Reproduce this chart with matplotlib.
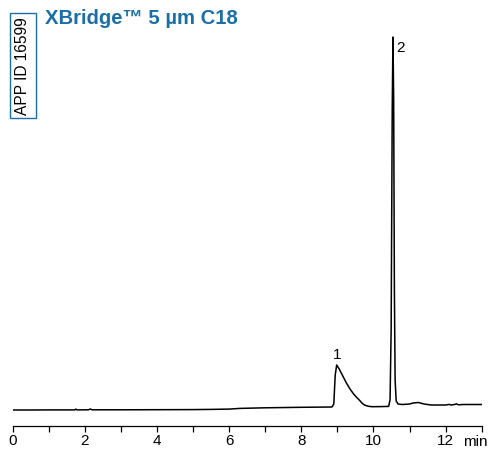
import matplotlib
matplotlib.use("Agg")
import matplotlib.pyplot as plt
from matplotlib import font_manager
from matplotlib.patches import Rectangle

# ---- data ----
time_min = [0.0, 0.5, 1.0, 1.5, 1.72, 1.75, 1.78, 2.1, 2.15, 2.2, 3.0, 4.0, 5.0,
            5.5, 6.0, 6.3, 7.0, 8.0, 8.85, 8.9, 8.94, 8.98, 9.05, 9.15, 9.25,
            9.35, 9.45, 9.55, 9.62, 9.68, 9.75, 9.85, 9.95, 10.2, 10.42, 10.46,
            10.49, 10.52, 10.54, 10.56, 10.58, 10.60, 10.63, 10.68, 10.8, 11.0,
            11.1, 11.25, 11.4, 11.6, 11.8, 12.0, 12.1, 12.15, 12.25, 12.3, 12.35,
            12.5, 12.7, 13.0]
signal = [0.0, 0.0, 0.1, 0.1, 0.1, 0.9, 0.1, 0.2, 1.0, 0.2, 0.2, 0.3, 0.4,
          0.6, 0.9, 1.6, 2.2, 2.7, 3.0, 6.0, 35.0, 45.0, 41.0, 34.0, 27.0,
          21.0, 16.0, 12.0, 9.5, 7.0, 5.0, 3.8, 3.3, 3.4, 3.6, 10.0,
          80.0, 300.0, 373.0, 310.0, 120.0, 30.0, 9.0, 6.0, 5.5, 6.0,
          7.0, 7.5, 6.0, 5.0, 5.0, 5.0, 5.6, 5.0, 5.5, 6.2, 5.2,
          5.5, 5.5, 5.5]
peak_labels = ["1", "2"]
peak_times = [8.98, 10.54]
peak_heights = [45.0, 373.0]
x_ticks = [0, 2, 4, 6, 8, 10, 12]
x_tick_labels = ["0", "2", "4", "6", "8", "10", "12"]
title_text = "XBridge\u2122 5 \u00b5m C18"
app_id_text = "APP ID 16599"

# ---- fonts ----
names = {f.name for f in font_manager.fontManager.ttflist}
base_font = "Liberation Sans" if "Liberation Sans" in names else "DejaVu Sans"
plt.rcParams["font.family"] = [base_font, "DejaVu Sans"]

W, H = 489, 449
fig = plt.figure(figsize=(W / 100, H / 100), dpi=100)

# axes placed in pixel coordinates
x0_px, x1_px = 12.7, 481.7
y_axis_px, y_top_px = 426.0, 30.0
ax = fig.add_axes([x0_px / W, (H - y_axis_px) / H,
                   (x1_px - x0_px) / W, (y_axis_px - y_top_px) / H])
ax.plot(time_min, signal, color="black", lw=1.1, solid_joinstyle="round")
ax.set_xlim(0, 13.0)
ax.set_ylim(-16, 380)

for s in ["left", "right", "top"]:
    ax.spines[s].set_visible(False)
ax.spines["bottom"].set_linewidth(0.9)
ax.set_yticks([])
ax.set_xticks(x_ticks)
ax.set_xticklabels(x_tick_labels)
ax.set_xticks(range(0, 14), minor=True)
ax.tick_params(axis="x", which="both", direction="out", length=4.3, width=0.9,
               labelsize=11, pad=1.5, colors="black")

for lab, t, h in zip(peak_labels, peak_times, peak_heights):
    if lab == "1":
        ax.annotate(lab, (t, h), xytext=(0, 2), textcoords="offset points",
                    ha="center", va="bottom", fontsize=11)
    else:
        ax.annotate(lab, (t, h), xytext=(5.5, -13), textcoords="offset points",
                    ha="center", va="bottom", fontsize=11)

# "min" unit label
fig.text(463 / W, (H - 442) / H, "min", ha="left", va="center", fontsize=11)

# title
blue = "#1a6fa8"
fig.text(45 / W, (H - 19) / H, title_text, ha="left", va="center",
         fontsize=14.6, fontweight="bold", color=blue)

# APP ID box
bx0, bx1, by0, by1 = 9.5, 36.5, 13.3, 118.0
fig.patches.append(Rectangle((bx0 / W, (H - by1) / H), (bx1 - bx0) / W,
                             (by1 - by0) / H, transform=fig.transFigure,
                             fill=False, edgecolor=blue, lw=1.0))
fig.text(((bx0 + bx1) / 2) / W, ((H - (by0 + by1) / 2)) / H, app_id_text,
         rotation=90, ha="center", va="center", fontsize=11.2, color="black")

fig.savefig("out.png", dpi=100)
